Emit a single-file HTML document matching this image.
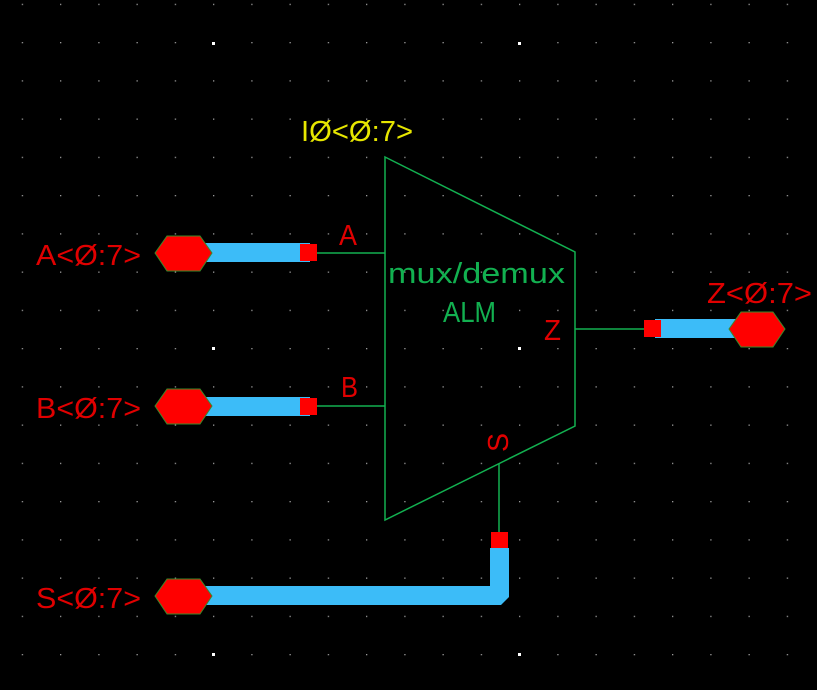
<!DOCTYPE html>
<html><head><meta charset="utf-8"><style>
html,body{margin:0;padding:0;background:#000;}
svg{display:block;}
text{font-family:"Liberation Sans",sans-serif;font-size:29px;}
</style></head><body>
<svg width="817" height="690" viewBox="0 0 817 690" xmlns="http://www.w3.org/2000/svg">
<defs>
<pattern id="g" x="21.75" y="3.75" width="38.25" height="38.25" patternUnits="userSpaceOnUse">
<rect x="0" y="0" width="1.3" height="1.3" fill="#9a9a9a"/>
</pattern>
</defs>
<rect width="817" height="690" fill="#000"/>
<rect width="817" height="690" fill="url(#g)"/>
<g fill="#fff">
<rect x="212" y="42" width="3" height="3"/><rect x="518" y="42" width="3" height="3"/>
<rect x="212" y="347" width="3" height="3"/><rect x="518" y="347" width="3" height="3"/>
<rect x="212" y="653" width="3" height="3"/><rect x="518" y="653" width="3" height="3"/>
</g>
<!-- mux body -->
<polygon points="385,157 575,252 575,426 385,520" fill="none" stroke="#12b050" stroke-width="1.5"/>
<g stroke="#12b050" stroke-width="1.5">
<line x1="317" y1="253" x2="385" y2="253"/>
<line x1="317" y1="406" x2="385" y2="406"/>
<line x1="575" y1="329" x2="645" y2="329"/>
<line x1="499" y1="464" x2="499" y2="533"/>
</g>
<!-- buses -->
<g fill="#3cbcf8">
<rect x="190" y="243" width="120" height="19"/>
<rect x="190" y="397" width="120" height="19"/>
<rect x="655" y="319" width="85" height="19"/>
<polygon points="190,586 490,586 490,548 509,548 509,597 501,605 190,605"/>
</g>
<!-- squares -->
<g fill="#ff0000">
<rect x="300" y="244" width="17" height="17"/>
<rect x="300" y="398" width="17" height="17"/>
<rect x="644" y="320" width="17" height="17"/>
<rect x="491" y="532" width="17" height="16"/>
</g>
<!-- hex pins -->
<g fill="#ff0000" stroke="#3a8a2a" stroke-width="1">
<polygon points="155,253 167,236 200,236 212,253 200,271 167,271"/>
<polygon points="155,406 167,389 200,389 212,406 200,424 167,424"/>
<polygon points="155,596 167,579 200,579 212,596 200,614 167,614"/>
<polygon points="729,329 741,312 773,312 785,329 773,347 741,347"/>
</g>
<!-- labels -->
<g fill="#e00000">
<text x="36" y="265" textLength="105" lengthAdjust="spacingAndGlyphs">A&lt;Ø:7&gt;</text>
<text x="36" y="418" textLength="105" lengthAdjust="spacingAndGlyphs">B&lt;Ø:7&gt;</text>
<text x="36" y="608" textLength="105" lengthAdjust="spacingAndGlyphs">S&lt;Ø:7&gt;</text>
<text x="707" y="303" textLength="105" lengthAdjust="spacingAndGlyphs">Z&lt;Ø:7&gt;</text>
<text x="339" y="245" font-size="28" textLength="18" lengthAdjust="spacingAndGlyphs">A</text>
<text x="341" y="397" font-size="28" textLength="17" lengthAdjust="spacingAndGlyphs">B</text>
<text x="544" y="340" font-size="28" textLength="17" lengthAdjust="spacingAndGlyphs">Z</text>
<text transform="translate(508,452) rotate(-90)" font-size="28" textLength="19" lengthAdjust="spacingAndGlyphs">S</text>
</g>
<text x="301" y="141" fill="#e6e600" textLength="112" lengthAdjust="spacingAndGlyphs">IØ&lt;Ø:7&gt;</text>
<g fill="#12b050">
<text x="388" y="283" textLength="177" lengthAdjust="spacingAndGlyphs">mux/demux</text>
<text x="443" y="322" textLength="53" lengthAdjust="spacingAndGlyphs">ALM</text>
</g>
</svg>
</body></html>
